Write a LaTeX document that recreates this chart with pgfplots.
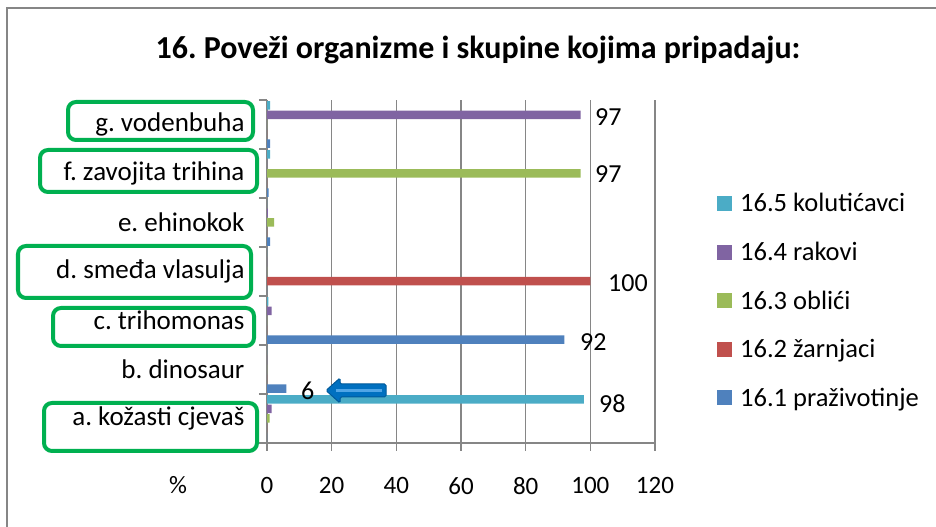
\documentclass[border=0pt]{standalone}
\usepackage{pgfplots}
\pgfplotsset{compat=1.18}
\usepackage{fontspec}
\setmainfont{Carlito}
\usetikzlibrary{arrows.meta}
\definecolor{c1}{RGB}{79,129,189}
\definecolor{c2}{RGB}{192,80,77}
\definecolor{c3}{RGB}{155,187,89}
\definecolor{c4}{RGB}{128,100,162}
\definecolor{c5}{RGB}{75,172,198}
\definecolor{xlgreen}{RGB}{0,176,80}
\definecolor{gridgray}{RGB}{134,134,134}
\definecolor{arrowblue}{RGB}{0,112,192}
\definecolor{arrowlight}{RGB}{80,165,230}
\newcommand{\fs}[1]{\fontsize{#1bp}{#1bp}\selectfont}
\frenchspacing
\begin{document}
\begin{tikzpicture}
\useasboundingbox (0,0) rectangle (936bp,527bp);
\begin{axis}[
  at={(267bp,84bp)}, anchor=south west, scale only axis,
  width=388bp, height=343bp,
  xmin=0, xmax=120, ymin=-0.5, ymax=6.5,
  axis x line*=bottom, axis y line*=left,
  axis line style={gridgray, line width=1.2bp},
  xtick={0,20,...,120},
  xmajorgrids, grid style={gridgray, line width=1.2bp},
  tick align=outside, major tick length=8bp,
  tick style={gridgray, line width=1.2bp},
  ytick={-0.5,0.5,...,6.5}, yticklabels={},
  extra y ticks={0,...,6},
  extra y tick labels={a. kožasti cjevaš, b. dinosaur, c. trihomonas, d. smeđa vlasulja, e. ehinokok, f. zavojita trihina, g. vodenbuha},
  extra y tick style={major tick length=0pt, tick style={draw=none}, grid=none,
     yticklabel style={font=\fs{27}\frenchspacing, xshift=-19bp, text=black}},
  /pgf/number format/assume math mode=true,
  xticklabel style={font=\fs{25}, yshift=-23bp},
  bar width=8.5bp,
  legend style={at={(1.152,0.415)}, anchor=west, draw=none, fill=none,
     font=\fs{26.5}\frenchspacing, row sep=24.8bp, cells={anchor=west},
     /tikz/every odd column/.append style={column sep=6bp}},
  reverse legend,
  legend image code/.code={\fill[#1,draw=none] (0bp,-7.5bp) rectangle (15bp,7.5bp);},
  clip=false,
]
\addplot[xbar, fill=c1, draw=none, bar shift=-19.2bp] coordinates {(0,0) (6,1) (92,2) (0,3) (1,4) (0.5,5) (1,6)};
\addlegendentry{16.1 praživotinje}
\addplot[xbar, fill=c2, draw=none, bar shift=-9.6bp] coordinates {(0,0) (0,1) (0,2) (100,3) (0,4) (0,5) (0,6)};
\addlegendentry{16.2 žarnjaci}
\addplot[xbar, fill=c3, draw=none, bar shift=0bp] coordinates {(0.8,0) (0,1) (0,2) (0,3) (2.2,4) (97,5) (0,6)};
\addlegendentry{16.3 oblići}
\addplot[xbar, fill=c4, draw=none, bar shift=9.6bp] coordinates {(1.4,0) (0,1) (1.4,2) (0,3) (0.3,4) (0,5) (97,6)};
\addlegendentry{16.4 rakovi}
\addplot[xbar, fill=c5, draw=none, bar shift=19.2bp] coordinates {(98,0) (0,1) (0.4,2) (0,3) (0,4) (1,5) (1,6)};
\addlegendentry{16.5 kolutićavci}
\end{axis}
\begin{scope}[x=1bp, y=-1bp, yshift=527bp]
  % chart frame (cropped)
  \draw[gridgray, line width=1.5bp] (7,527) -- (7,8) -- (936,8);
  % title
  \node[font=\fs{32}\bfseries] at (478,50) {16. Poveži organizme i skupine kojima pripadaju:};
  % green boxes
  \begin{scope}[xlgreen, line width=4bp, rounded corners=8bp]
    \draw (68,102) rectangle (253,140);
    \draw (40,150) rectangle (257,192);
    \draw (18,246) rectangle (251,298);
    \draw (53,308) rectangle (254,346);
    \draw (44,403) rectangle (257,451);
  \end{scope}
  % data labels
  \begin{scope}[font=\fs{26}, anchor=west, inner sep=0pt]
    \node at (595,117) {97};
    \node at (595,174) {97};
    \node at (608,283) {100};
    \node at (580,342) {92};
    \node at (599,404) {98};
    \node at (301,391) {6};
  \end{scope}
  % arrow
  \filldraw[fill=arrowblue, draw=arrowblue!80!black, line width=1bp, rounded corners=1.5bp]
    (386,384) -- (340,384) -- (340,378) -- (326,390.5) -- (340,403) -- (340,397) -- (386,397) -- cycle;
  \draw[arrowlight, line width=2.5bp] (382,390.5) -- (336,390.5);
  % percent sign
  \node[font=\fs{25}] at (178,485) {\%};
\end{scope}
\end{tikzpicture}
\end{document}
